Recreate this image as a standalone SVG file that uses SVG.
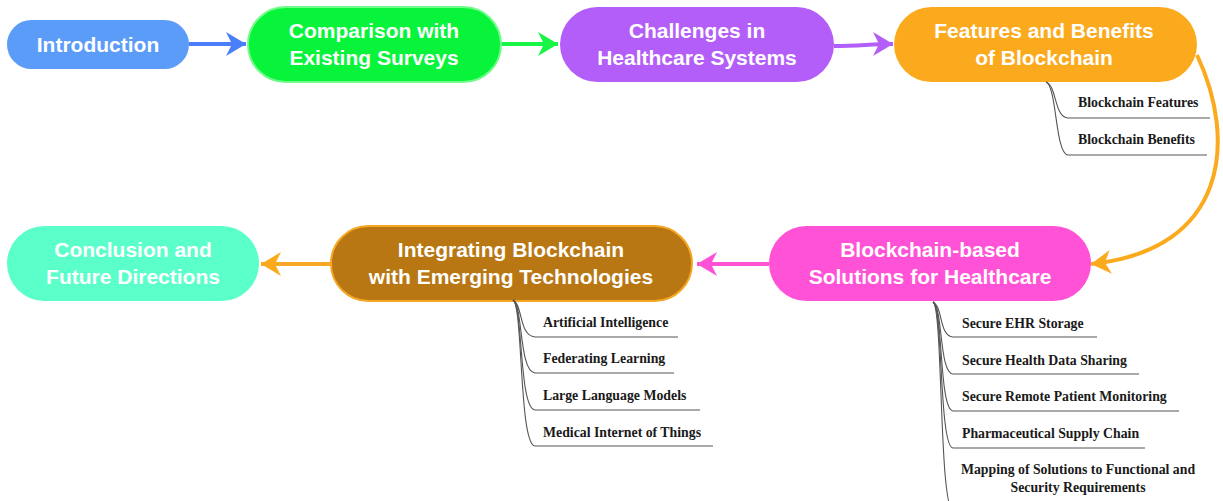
<svg xmlns="http://www.w3.org/2000/svg" width="1223" height="501" viewBox="0 0 1223 501">
  <style>
    .node-label { font-family: "Liberation Sans", Arial, sans-serif; font-weight: bold; font-size: 21px; fill: #ffffff; text-anchor: middle; }
    .leaf { font-family: "Liberation Serif", "Times New Roman", serif; font-weight: bold; font-size: 13.8px; fill: #1a1a1a; }
    .branch { fill: none; stroke: #555555; stroke-width: 1.1; }
    .flow { fill: none; stroke-width: 4; }
  </style>
  <defs>
    <marker id="arr-blue" markerUnits="userSpaceOnUse" markerWidth="22" markerHeight="26" refX="20" refY="12" orient="auto" viewBox="0 0 22 24">
      <path d="M0,0 L20,12 L0,24 L6,12 Z" fill="#4b7ff7"/>
    </marker>
    <marker id="arr-green" markerUnits="userSpaceOnUse" markerWidth="22" markerHeight="26" refX="20" refY="12" orient="auto" viewBox="0 0 22 24">
      <path d="M0,0 L20,12 L0,24 L6,12 Z" fill="#18f545"/>
    </marker>
    <marker id="arr-purple" markerUnits="userSpaceOnUse" markerWidth="22" markerHeight="26" refX="20" refY="12" orient="auto" viewBox="0 0 22 24">
      <path d="M0,0 L20,12 L0,24 L6,12 Z" fill="#b35ef9"/>
    </marker>
    <marker id="arr-orange" markerUnits="userSpaceOnUse" markerWidth="22" markerHeight="26" refX="20" refY="12" orient="auto" viewBox="0 0 22 24">
      <path d="M0,0 L20,12 L0,24 L6,12 Z" fill="#fbaa1d"/>
    </marker>
    <marker id="arr-magenta" markerUnits="userSpaceOnUse" markerWidth="22" markerHeight="26" refX="20" refY="12" orient="auto" viewBox="0 0 22 24">
      <path d="M0,0 L20,12 L0,24 L6,12 Z" fill="#ff52d6"/>
    </marker>
  </defs>

  <rect width="1223" height="501" fill="#ffffff"/>

  <!-- flow connectors between topics -->
  <g id="connectors">
    <path class="flow" d="M189,44 L246,44" stroke="#4b7ff7" marker-end="url(#arr-blue)"/>
    <path class="flow" d="M501,44 L558,44" stroke="#18f545" marker-end="url(#arr-green)"/>
    <path class="flow" d="M834,46 C860,46 870,44 893,44" stroke="#b35ef9" marker-end="url(#arr-purple)"/>
    <path class="flow" d="M1197,55 C1237,140 1228,250 1091,264" stroke="#fbaa1d" marker-end="url(#arr-orange)"/>
    <path class="flow" d="M769,264 L697,264" stroke="#ff52d6" marker-end="url(#arr-magenta)"/>
    <path class="flow" d="M331,264 L261,264" stroke="#f9a825" marker-end="url(#arr-orange)"/>
  </g>

  <!-- topic nodes -->
  <g id="introduction">
    <rect x="7" y="20" width="182" height="49" rx="24.5" fill="#5b9cf9"/>
    <text class="node-label" x="98" y="52">Introduction</text>
  </g>
  <g id="comparison">
    <rect x="248" y="7" width="253" height="75" rx="37.5" fill="#07f43a" stroke="#72fb8a" stroke-width="2"/>
    <text class="node-label" x="374" y="38">Comparison with</text>
    <text class="node-label" x="374" y="65">Existing Surveys</text>
  </g>
  <g id="challenges">
    <rect x="560" y="7" width="274" height="75" rx="37.5" fill="#b35ef9"/>
    <text class="node-label" x="697" y="38">Challenges in</text>
    <text class="node-label" x="697" y="65">Healthcare Systems</text>
  </g>
  <g id="features">
    <rect x="894" y="7" width="303" height="75" rx="37.5" fill="#fbaa1d"/>
    <text class="node-label" x="1044" y="38">Features and Benefits</text>
    <text class="node-label" x="1044" y="65">of Blockchain</text>
  </g>
  <g id="solutions">
    <rect x="769" y="226" width="322" height="75" rx="37.5" fill="#ff52d6"/>
    <text class="node-label" x="930" y="257">Blockchain-based</text>
    <text class="node-label" x="930" y="284">Solutions for Healthcare</text>
  </g>
  <g id="integrating">
    <rect x="331" y="226" width="361" height="75" rx="37.5" fill="#b87712" stroke="#f5a623" stroke-width="2"/>
    <text class="node-label" x="511" y="257">Integrating Blockchain</text>
    <text class="node-label" x="511" y="284">with Emerging Technologies</text>
  </g>
  <g id="conclusion">
    <rect x="7" y="226" width="252" height="75" rx="37.5" fill="#5affca"/>
    <text class="node-label" x="133" y="257">Conclusion and</text>
    <text class="node-label" x="133" y="284">Future Directions</text>
  </g>

  <!-- subtopics of Features and Benefits -->
  <g id="features-children">
    <path class="branch" d="M1046,82 C1057,86 1054,117 1068,118 L1210,118"/>
    <path class="branch" d="M1046,82 C1057,86 1055,154 1068,155 L1207,155"/>
    <text class="leaf" x="1078" y="107">Blockchain Features</text>
    <text class="leaf" x="1078" y="144">Blockchain Benefits</text>
  </g>

  <!-- subtopics of Integrating Blockchain -->
  <g id="integrating-children">
    <path class="branch" d="M513,300 C523,305 519,336 535,337 L678,337"/>
    <path class="branch" d="M513,300 C523,305 519,372 535,373 L674,373"/>
    <path class="branch" d="M513,300 C523,305 519,409 535,410 L700,410"/>
    <path class="branch" d="M513,300 C523,305 519,445 535,446 L713,446"/>
    <text class="leaf" x="543" y="327">Artificial Intelligence</text>
    <text class="leaf" x="543" y="363">Federating Learning</text>
    <text class="leaf" x="543" y="400">Large Language Models</text>
    <text class="leaf" x="543" y="437">Medical Internet of Things</text>
  </g>

  <!-- subtopics of Blockchain-based Solutions -->
  <g id="solutions-children">
    <path class="branch" d="M933,302 C943,307 939,336 953,337 L1097,337"/>
    <path class="branch" d="M933,302 C943,307 939,373 953,374 L1139,374"/>
    <path class="branch" d="M933,302 C943,307 939,410 953,411 L1179,411"/>
    <path class="branch" d="M933,302 C943,307 939,447 953,448 L1145,448"/>
    <path class="branch" d="M933,302 C943,307 939,509 953,510 L1195,510"/>
    <text class="leaf" x="962" y="328">Secure EHR Storage</text>
    <text class="leaf" x="962" y="365">Secure Health Data Sharing</text>
    <text class="leaf" x="962" y="401">Secure Remote Patient Monitoring</text>
    <text class="leaf" x="962" y="438">Pharmaceutical Supply Chain</text>
    <text class="leaf" x="1078" y="474" text-anchor="middle">Mapping of Solutions to Functional and</text>
    <text class="leaf" x="1078" y="492" text-anchor="middle">Security Requirements</text>
  </g>
</svg>
